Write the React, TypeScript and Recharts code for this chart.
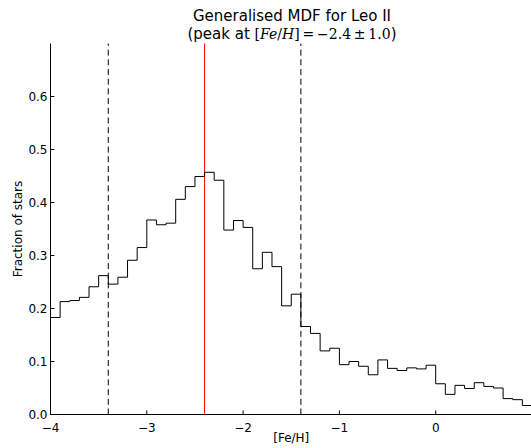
import React from "react";
import {
  LineChart,
  Line,
  XAxis,
  YAxis,
  ReferenceLine,
} from "recharts";

// left edge of each [Fe/H] bin (width 0.1), last entry closes the final bin
const BIN_EDGES = [
  -4.0, -3.9, -3.8, -3.7, -3.6, -3.5, -3.4, -3.3, -3.2, -3.1,
  -3.0, -2.9, -2.8, -2.7, -2.6, -2.5, -2.4, -2.3, -2.2, -2.1,
  -2.0, -1.9, -1.8, -1.7, -1.6, -1.5, -1.4, -1.3, -1.2, -1.1,
  -1.0, -0.9, -0.8, -0.7, -0.6, -0.5, -0.4, -0.3, -0.2, -0.1,
  0.0, 0.1, 0.2, 0.3, 0.4, 0.5, 0.6, 0.7, 0.8, 0.9, 1.0,
];

// fraction of stars per bin
const FRACTION = [
  0.183, 0.213, 0.215, 0.221, 0.241, 0.262, 0.246, 0.259, 0.291, 0.315,
  0.367, 0.358, 0.361, 0.406, 0.43, 0.449, 0.457, 0.442, 0.348, 0.366,
  0.353, 0.275, 0.306, 0.279, 0.205, 0.227, 0.166, 0.153, 0.12, 0.125,
  0.094, 0.1, 0.091, 0.075, 0.103, 0.087, 0.083, 0.088, 0.086, 0.093,
  0.058, 0.038, 0.055, 0.049, 0.06, 0.053, 0.05, 0.03, 0.028, 0.017,
];

const X_TICKS = [-4, -3, -2, -1, 0, 1];
const Y_TICKS = [0, 0.1, 0.2, 0.3, 0.4, 0.5, 0.6];

const PEAK = -2.4;
const PEAK_ERR = 1.0;

const data = BIN_EDGES.map((x, i) => ({
  x,
  y: FRACTION[Math.min(i, FRACTION.length - 1)],
}));

const tickStyle = { fontSize: 12, fill: "#000", fontFamily: "DejaVu Sans" };

// the right-most label falls outside the visible figure
function fmtX(v: number): string {
  if (v >= 1) return "";
  return v < 0 ? `\u2212${Math.abs(v)}` : `${v}`;
}

export default function App() {
  return (
    <div
      style={{
        position: "absolute",
        left: 0,
        top: 0,
        width: 531,
        height: 448,
        overflow: "hidden",
        background: "#fff",
        fontFamily: "DejaVu Sans",
      }}
    >
      <LineChart
        width={540}
        height={448}
        data={data}
        margin={{ top: 43.5, right: 8, bottom: 3.5, left: 0.5 }}
      >
        <XAxis
          dataKey="x"
          type="number"
          domain={[-4, 1]}
          ticks={X_TICKS}
          interval={0}
          tickFormatter={fmtX}
          tick={tickStyle}
          tickSize={-4}
          tickMargin={13}
          height={30}
          stroke="#000"
          allowDataOverflow
          label={{
            value: "[Fe/H]",
            position: "insideBottom",
            offset: 3,
            fontSize: 12,
            fill: "#000",
            fontFamily: "DejaVu Sans",
          }}
        />
        <XAxis
          xAxisId="top"
          orientation="top"
          dataKey="x"
          type="number"
          domain={[-4, 1]}
          ticks={X_TICKS}
          interval={0}
          tick={false}
          tickSize={-4}
          height={0}
          stroke="#000"
          allowDataOverflow
        />
        <YAxis
          type="number"
          domain={[0, 0.7]}
          ticks={Y_TICKS}
          interval={0}
          tickFormatter={(v: number) => v.toFixed(1)}
          tick={tickStyle}
          tickSize={-4}
          tickMargin={7}
          width={50}
          stroke="#000"
          allowDataOverflow
        />
        <YAxis
          yAxisId="r"
          orientation="right"
          type="number"
          domain={[0, 0.7]}
          ticks={Y_TICKS}
          interval={0}
          tick={false}
          tickSize={-4}
          width={0}
          stroke="#000"
          allowDataOverflow
        />
        <ReferenceLine
          x={PEAK - PEAK_ERR}
          stroke="#000"
          strokeDasharray="6 3.7"
          strokeWidth={1}
        />
        <ReferenceLine
          x={PEAK + PEAK_ERR}
          stroke="#000"
          strokeDasharray="6 3.7"
          strokeWidth={1}
        />
        <ReferenceLine x={PEAK} stroke="#ff0000" strokeWidth={1} />
        <Line
          dataKey="y"
          type="stepAfter"
          stroke="#000"
          strokeWidth={1}
          dot={false}
          isAnimationActive={false}
        />
      </LineChart>
      <svg
        width={531}
        height={448}
        style={{ position: "absolute", left: 0, top: 0, pointerEvents: "none" }}
      >
        <text x={292} y={20.5} textAnchor="middle" fontSize={15} fontFamily="DejaVu Sans" fill="#000">
          Generalised MDF for Leo II
        </text>
        <text x={292} y={38.5} textAnchor="middle" fontSize={15} fontFamily="DejaVu Sans" fill="#000">
          (peak at{" "}
          <tspan fontFamily="DejaVu Serif" fontSize={14}>
            [<tspan fontStyle="italic">Fe</tspan>/<tspan fontStyle="italic">H</tspan>]
            {"\u2009=\u2009\u22122.4\u2009\u00b1\u20091.0"}
          </tspan>
          )
        </text>
        <text
          transform="translate(21.5,229) rotate(-90)"
          textAnchor="middle"
          fontSize={12}
          fontFamily="DejaVu Sans"
          fill="#000"
        >
          Fraction of stars
        </text>
      </svg>
    </div>
  );
}
